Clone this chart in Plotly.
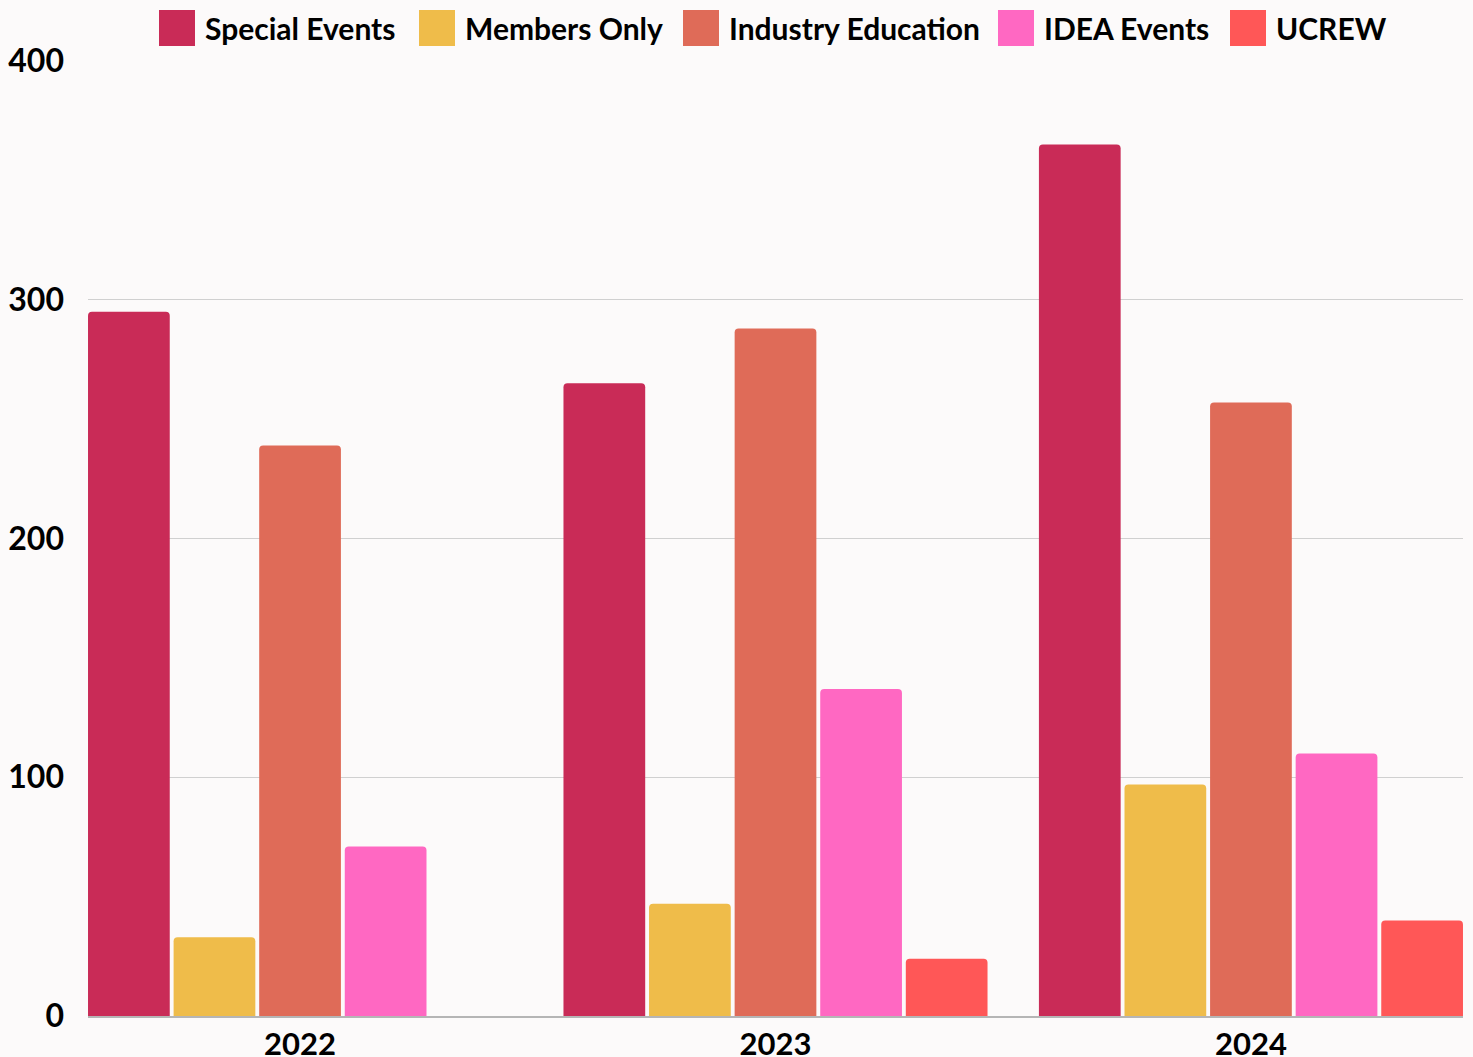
import plotly.graph_objects as go

years = ["2022", "2023", "2024"]
series_names = ["Special Events", "Members Only", "Industry Education", "IDEA Events", "UCREW"]
special_events = [295, 265, 365]
members_only = [33, 47, 97]
industry_education = [239, 288, 257]
idea_events = [71, 137, 110]
ucrew = [0, 24, 40]
y_ticks = [0, 100, 200, 300, 400]

colors = ["#c92b57", "#efbc4a", "#df6b58", "#ff68c2", "#ff5757"]
values = [special_events, members_only, industry_education, idea_events, ucrew]

FONT = "Lato"
fig = go.Figure()
for name, vals, c in zip(series_names, values, colors):
    fig.add_trace(go.Bar(x=years, y=vals, name=name, marker=dict(color=c, line=dict(width=0)),
                         showlegend=False))

W, H = 1473, 1057
ml, mr, mt, mb = 88, 10, 61, 41
pw = W - ml - mr
ph = H - mt - mb

# manual legend (large square swatches)
legend_x = [159, 419, 683, 998, 1230]
shapes = []
annotations = []
for name, c, lx in zip(series_names, colors, legend_x):
    x0 = (lx - ml) / pw
    x1 = (lx + 36 - ml) / pw
    y0 = (H - mb - 46) / ph
    y1 = (H - mb - 10) / ph
    shapes.append(dict(type="rect", xref="paper", yref="paper", x0=x0, x1=x1, y0=y0, y1=y1,
                       fillcolor=c, line=dict(width=0), layer="above"))
    annotations.append(dict(xref="paper", yref="paper", x=(lx + 44 - ml) / pw, y=(H - mb - 28) / ph,
                            xanchor="left", yanchor="middle", text=name,
                            showarrow=False,
                            font=dict(family=FONT, size=30, color="#000000", weight="bold")))

fig.update_layout(
    width=W, height=H,
    margin=dict(l=ml, r=mr, t=mt, b=mb, pad=0, autoexpand=False),
    paper_bgcolor="#fcfafa", plot_bgcolor="#fcfafa",
    barmode="group", bargap=0.1, bargroupgap=0.045, barcornerradius=4,
    font=dict(family=FONT, color="#000000"),
    shapes=shapes, annotations=annotations,
    xaxis=dict(type="category", range=[-0.446, 2.446], showgrid=False, automargin=False,
               showline=True, linecolor="#b5b5b5", linewidth=1.5, ticks="",
               tickfont=dict(family=FONT, size=31, color="#000000", weight="bold"),
               fixedrange=True),
    yaxis=dict(range=[0, 400], tickvals=y_ticks, showgrid=True, gridcolor="#d0d0d0", gridwidth=1,
               zeroline=False, showline=False, ticks="", ticklabelstandoff=23, automargin=False,
               tickfont=dict(family=FONT, size=32, color="#000000", weight="bold"),
               fixedrange=True),
)

fig.write_html("out.html", config={"displayModeBar": False, "staticPlot": True},
               post_script="document.body.style.margin='0';document.body.style.overflow='hidden';")
